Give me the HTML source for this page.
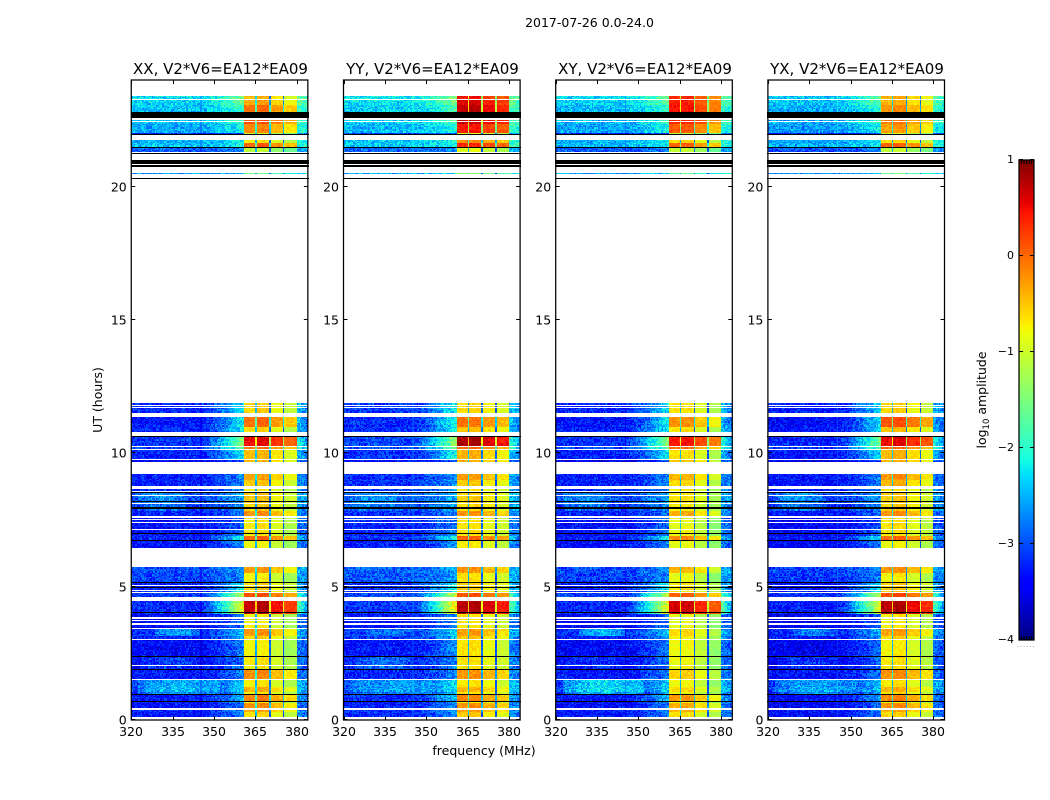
<!DOCTYPE html>
<html>
<head>
<meta charset="utf-8">
<style>
html,body{margin:0;padding:0;background:#fff;width:1050px;height:800px;overflow:hidden}
#figure{position:relative;width:1050px;height:800px;background:#fff}
#figure canvas{position:absolute;image-rendering:pixelated}
#figure svg{position:absolute;left:0;top:0}
text{font-family:"DejaVu Sans","Liberation Sans",sans-serif;fill:#000}
</style>
</head>
<body>
<div id="figure">
<svg id="overlay" width="1050" height="800">
  <text x="589.5" y="27" font-size="12.5" text-anchor="middle">2017-07-26 0.0-24.0</text>
  <text x="220.5" y="74" font-size="15" text-anchor="middle">XX, V2*V6=EA12*EA09</text>
  <text x="432.5" y="74" font-size="15" text-anchor="middle">YY, V2*V6=EA12*EA09</text>
  <text x="645" y="74" font-size="15" text-anchor="middle">XY, V2*V6=EA12*EA09</text>
  <text x="857" y="74" font-size="15" text-anchor="middle">YX, V2*V6=EA12*EA09</text>
  <text transform="translate(102,400) rotate(-90)" font-size="12.5" text-anchor="middle">UT (hours)</text>
  <text x="484" y="755" font-size="12.5" text-anchor="middle">frequency (MHz)</text>
  <text transform="translate(986,400) rotate(-90)" font-size="12.5" text-anchor="middle">log<tspan font-size="8.5" dy="3">10</tspan><tspan dy="-3"> amplitude</tspan></text>
  <text x="1026" y="647" font-size="8" style="fill:#999;letter-spacing:0.6px" text-anchor="middle">......</text>
</svg>
</div>
<script>
// ---------- data ----------
const polarisations = ['xx', 'yy', 'xy', 'yx'];
const xTickLabels = [320, 335, 350, 365, 380];
const yTickLabels = [0, 5, 10, 15, 20];
const colorbarTicks = [1, 0, -1, -2, -3, -4];

// Spectral-window edges (MHz) and the spw level per polarisation (log10 amplitude)
const spwEdges = [360.6, 365.2, 370.2, 375.3, 380];
const spwGapLevels = [-2.5, -2.9, -3.0];
const spwLevels = [
  [-0.85, -0.78, -1.08, -1.32],
  [-0.8, -0.77, -0.98, -1.15],
  [-0.88, -0.85, -1.15, -1.42],
  [-0.82, -0.75, -1.02, -1.25]
];
const panelBgOffset = [0, 0.08, -0.02, -0.08];

// Observed time blocks: UT start, UT end, background, wing lift, signal XX, YY, XY, YX
const bands = [
  [0.12, 0.30, -3.3, 0.3, 0.2, 0.25, 0.2, 0.2],
  [0.30, 0.38, -3.25, 0.3, 0.5, 0.5, 0.45, 0.45],
  [0.41, 0.62, -3.35, 0.3, 0.62, 0.58, 0.5, 0.58],
  [0.62, 0.72, -3.35, 0.4, 0.05, 0.05, 0.05, 0.05],
  [0.72, 0.94, -3.3, 0.6, 0.7, 0.62, 0.62, 0.62],
  [0.94, 1.06, -3.25, 0.5, 0.12, 0.12, 0.05, 0.12],
  [1.06, 1.22, -3.05, 0.5, 0.45, 0.38, 0.25, 0.38],
  [1.22, 1.51, -3.1, 0.5, 0.12, 0.12, 0.05, 0.12],
  [1.51, 1.86, -3.3, 0.3, 0.62, 0.56, 0.3, 0.56],
  [1.86, 2.39, -3.35, 0.3, 0.12, 0.12, 0.05, 0.12],
  [2.39, 3.00, -3.4, 0.4, 0.05, 0.12, 0.05, 0.05],
  [3.00, 3.14, -3.25, 0.4, 0.25, 0.25, 0.12, 0.2],
  [3.14, 3.43, -3.15, 0.5, 0.56, 0.5, 0.25, 0.5],
  [3.43, 3.98, -3.4, 0.3, 0.05, 0.12, 0.0, 0.05],
  [3.98, 4.48, -3.2, 2.2, 1.56, 1.56, 1.5, 1.56],
  [4.60, 4.76, -3.1, 1.8, 0.95, 0.9, 0.9, 0.95],
  [4.76, 5.16, -3.25, 0.8, 0.25, 0.25, 0.2, 0.25],
  [5.16, 5.53, -3.05, 0.1, 0.05, 0.12, 0.0, 0.05],
  [5.53, 5.73, -3.0, 0.1, 0.56, 0.56, 0.45, 0.56],
  [6.44, 6.76, -3.35, 0.4, 0.0, 0.05, 0.0, 0.0],
  [6.76, 6.90, -3.25, 0.9, 0.85, 0.8, 0.7, 0.8],
  [6.90, 7.13, -3.35, 0.3, 0.12, 0.12, 0.05, 0.12],
  [7.13, 7.48, -3.35, 0.2, 0.12, 0.12, 0.0, 0.12],
  [7.48, 7.65, -3.35, 0.2, 0.12, 0.12, 0.05, 0.12],
  [7.65, 7.85, -3.25, 0.2, 0.62, 0.56, 0.5, 0.56],
  [7.85, 8.11, -3.1, 0.2, 0.25, 0.2, 0.12, 0.25],
  [8.11, 8.54, -3.0, 0.2, 0.3, 0.25, 0.2, 0.25],
  [8.60, 8.67, -3.15, 0.2, 0.12, 0.12, 0.12, 0.12],
  [8.79, 9.00, -3.25, 0.3, 0.3, 0.25, 0.25, 0.38],
  [9.00, 9.23, -3.25, 0.3, 0.5, 0.5, 0.45, 0.56],
  [9.69, 9.75, -3.45, 0.2, 0.4, 0.4, 0.4, 0.4],
  [9.79, 10.13, -3.25, 0.8, 0.38, 0.38, 0.2, 0.38],
  [10.13, 10.28, -3.05, 1.2, 0.8, 0.8, 0.8, 0.8],
  [10.28, 10.64, -3.15, 1.5, 1.35, 1.58, 1.3, 1.35],
  [10.80, 11.00, -3.25, 0.8, 0.2, 0.32, 0.2, 0.32],
  [11.00, 11.36, -3.3, 0.9, 0.8, 0.72, 0.65, 0.9],
  [11.42, 11.52, -3.15, 0.6, 0.12, 0.12, 0.12, 0.2],
  [11.52, 11.87, -3.2, 0.7, 0.25, 0.2, 0.2, 0.2],
  [20.47, 20.52, -2.6, 0.0, -0.8, -0.6, -0.8, -0.8],
  [21.29, 21.45, -2.95, 0.0, -0.3, -0.1, -0.2, -0.3],
  [21.50, 21.62, -2.45, 0.0, 0.85, 1.15, 0.9, 0.78],
  [21.62, 21.77, -2.5, 0.1, 0.15, 0.6, 0.25, 0.15],
  [21.96, 22.02, -3.2, 0.0, -0.2, -0.1, -0.2, -0.2],
  [22.02, 22.35, -2.55, 0.2, 0.65, 1.2, 0.95, 0.5],
  [22.35, 22.54, -2.45, 0.3, 0.95, 1.5, 1.25, 0.7],
  [22.80, 23.08, -2.45, 0.3, 0.78, 1.5, 1.3, 0.58],
  [23.08, 23.28, -2.35, 0.5, 0.5, 1.38, 1.25, 0.38],
  [23.28, 23.40, -2.3, 0.5, 0.38, 1.25, 1.2, 0.45]
];

// Blank (white) and flagged (black) integrations: UT start, UT end
const whiteRows = [
  [0.40, 0.44], [1.50, 1.54], [2.03, 2.07], [2.99, 3.03], [3.42, 3.46], [3.58, 3.62], [3.72, 3.76], [3.80, 3.86],
  [4.48, 4.60], [4.75, 4.79], [4.84, 4.89], [5.03, 5.07], [7.11, 7.15], [7.39, 7.43], [7.58, 7.64], [7.50, 7.52],
  [8.09, 8.13], [8.40, 8.44], [8.67, 8.79], [8.54, 8.60], [9.75, 9.77], [10.12, 10.16], [10.23, 10.27],
  [11.42, 11.52], [11.71, 11.75], [11.78, 11.82], [21.76, 21.92], [22.42, 22.46], [22.50, 22.54], [23.26, 23.30]
];
const blackRows = [
  [0.69, 0.73], [0.92, 0.96], [1.89, 1.93], [2.37, 2.41], [4.02, 4.06], [4.96, 5.00], [5.14, 5.18],
  [6.70, 6.74], [6.97, 7.01], [7.93, 7.97], [8.18, 8.22], [8.52, 8.55], [10.62, 10.66],
  [20.28, 20.33], [20.75, 20.80], [20.84, 20.99], [21.24, 21.28], [21.47, 21.50], [21.94, 21.98], [22.56, 22.80]
];

// Broad diffuse features: UT start, UT end, MHz start, MHz end, lift per polarisation
const glowFeatures = [
  [1.00, 1.45, 322, 352, [0.6, 0.4, 0.8, 0.6]],
  [3.30, 3.38, 328, 345, [0.5, 0.25, 0.7, 0.5]],
  [1.90, 2.20, 323, 345, [0.25, 0.4, 0.15, 0.25]],
  [8.10, 8.40, 322, 340, [0.3, 0.3, 0.3, 0.4]]
];

// Hand-typed grain table (log10 amplitude offsets)
const grain = [
  0.22, -0.31, 0.05, 0.38, -0.12, -0.4, 0.17, 0.31, -0.24, 0.02, 0.44, -0.18, -0.35, 0.12, 0.27, -0.05, -0.28, 0.36,
  0.08, -0.44, 0.19, -0.09, 0.33, -0.21, 0.01, 0.47, -0.37, 0.14, -0.16, 0.25, -0.03, -0.33, 0.41, 0.1, -0.26, 0.29,
  -0.11, 0.06, -0.42, 0.35, 0.16, -0.2, -0.07, 0.52, -0.3, 0.21, 0.03, -0.14, 0.39, -0.38, 0.11, 0.24, -0.23, -0.01,
  0.3, -0.46, 0.18, 0.07, -0.29, 0.34, -0.1
];

// ---------- layout and axis functions ----------
const panelLefts = [131.25, 343.5, 555.7, 767.9];
const panelWidth = 176.6, panelTop = 80, panelBottom = 720;
const freqMin = 320, freqMax = 384, utMin = 0, utMax = 24;
const valueMin = -4, valueMax = 1;
const barLeft = 1019, barRight = 1034, barTop = 160, barBottom = 640;

function xScale(f) { return (f - freqMin) / (freqMax - freqMin) * panelWidth; }
function yScale(ut) { return panelBottom - (ut - utMin) / (utMax - utMin) * (panelBottom - panelTop); }
function barScale(v) { return barBottom - (v - valueMin) / (valueMax - valueMin) * (barBottom - barTop); }

function jetChannel(t, pts) {
  for (let i = 1; i < pts.length; i++) {
    if (t <= pts[i][0]) {
      const a = pts[i - 1], b = pts[i];
      return a[1] + (b[1] - a[1]) * (t - a[0]) / (b[0] - a[0]);
    }
  }
  return pts[pts.length - 1][1];
}
function jet(v) {
  const t = Math.max(0, Math.min(1, (v - valueMin) / (valueMax - valueMin)));
  const r = jetChannel(t, [[0, 0], [0.35, 0], [0.66, 1], [0.89, 1], [1, 0.5]]);
  const g = jetChannel(t, [[0, 0], [0.125, 0], [0.375, 1], [0.64, 1], [0.91, 0], [1, 0]]);
  const b = jetChannel(t, [[0, 0.5], [0.11, 1], [0.34, 1], [0.65, 0], [1, 0]]);
  return 'rgb(' + Math.round(r * 255) + ',' + Math.round(g * 255) + ',' + Math.round(b * 255) + ')';
}

function cellValue(p, band, f, c, r) {
  const g = grain[(c * c * 3 + r * 11 + c * r + p * 17) % grain.length];
  const sig = band[4 + p];
  if (f >= spwEdges[0] && f < spwEdges[spwEdges.length - 1]) {
    for (let s = 0; s < 4; s++) {
      if (f >= spwEdges[s] && f < spwEdges[s + 1]) {
        if (s < 3 && f >= spwEdges[s + 1] - 0.5) {
          return spwGapLevels[s] + Math.max(0, sig - 0.3) * 1.6 + g * 0.3;
        }
        return spwLevels[p][s] + sig + g * 0.3;
      }
    }
  }
  let v = band[2] + panelBgOffset[p] + g * 0.75;
  if (f < spwEdges[0]) {
    const t = Math.max(0, (f - 345) / 15.6);
    v = v + (band[3] + 0.25) * Math.pow(t, 1.3);
  } else {
    v = v + 0.4 + band[3] * 0.5 * (1 - (f - 380) / 4);
  }
  for (const ft of glowFeatures) {
    const mid = (ft[2] + ft[3]) / 2, half = (ft[3] - ft[2]) / 2;
    if (band[1] > ft[0] && band[0] < ft[1] && Math.abs(f - mid) < half) {
      v += ft[4][p] * (1 - Math.pow(Math.abs(f - mid) / half, 2) * 0.6);
    }
  }
  return v;
}

// ---------- draw heatmaps ----------
const figure = document.getElementById('figure');
const overlay = document.getElementById('overlay');
const svgNS = 'http://www.w3.org/2000/svg';
const channelWidth = 0.5, rowHeight = 0.05;

polarisations.forEach(function (pol, p) {
  const cv = document.createElement('canvas');
  
  
  cv.width = 178; cv.height = 640;
  cv.style.left = Math.floor(panelLefts[p]) + 'px';
  cv.style.top = panelTop + 'px';
  const ctx = cv.getContext('2d');
  const shift = panelLefts[p] - Math.floor(panelLefts[p]);
  let r = 0;
  bands.forEach(function (band) {
    for (let ut = band[0]; ut < band[1] - 1e-6; ut += rowHeight) {
      const top = Math.round(yScale(Math.min(ut + rowHeight, band[1])) - panelTop);
      const bot = Math.round(yScale(ut) - panelTop);
      let c = 0;
      for (let f = freqMin; f < freqMax; f += channelWidth) {
        const x0 = Math.round(xScale(f) + shift);
        const x1 = Math.round(xScale(f + channelWidth) + shift);
        ctx.fillStyle = jet(cellValue(p, band, f, c, r));
        ctx.fillRect(x0, top, x1 - x0, Math.max(1, bot - top));
        c++;
      }
      r++;
    }
  });
  const paintRows = function (rows, colour) {
    ctx.fillStyle = colour;
    rows.forEach(function (row) {
      const top = Math.round(yScale(row[1]) - panelTop);
      const bot = Math.round(yScale(row[0]) - panelTop);
      ctx.fillRect(0, top, 178, Math.max(1, bot - top));
    });
  };
  paintRows(whiteRows, '#fff');
  paintRows(blackRows, '#000');
  figure.insertBefore(cv, overlay);
});

// ---------- colorbar ----------
const barCanvas = document.createElement('canvas');


barCanvas.width = barRight - barLeft;
barCanvas.height = barBottom - barTop;
barCanvas.style.left = barLeft + 'px';
barCanvas.style.top = barTop + 'px';
const barCtx = barCanvas.getContext('2d');
for (let py = 0; py < barBottom - barTop; py++) {
  const v = valueMax - (py + 0.5) / (barBottom - barTop) * (valueMax - valueMin);
  barCtx.fillStyle = jet(v);
  barCtx.fillRect(0, py, barRight - barLeft, 1);
}
figure.insertBefore(barCanvas, overlay);

// ---------- axes ----------
function addLine(parent, x1, y1, x2, y2, name) {
  const l = document.createElementNS(svgNS, 'line');
  l.setAttribute('x1', x1); l.setAttribute('y1', y1);
  l.setAttribute('x2', x2); l.setAttribute('y2', y2);
  l.setAttribute('stroke', '#000');
  l.setAttribute('stroke-width', '1');
  
  
  parent.appendChild(l);
}
function addText(parent, x, y, str, anchor, size, name) {
  const t = document.createElementNS(svgNS, 'text');
  t.setAttribute('x', x); t.setAttribute('y', y);
  t.setAttribute('text-anchor', anchor);
  t.setAttribute('font-size', size);
  
  
  t.textContent = str;
  parent.appendChild(t);
}

polarisations.forEach(function (pol, p) {
  const left = panelLefts[p];
  const right = left + panelWidth;
  const frame = document.createElementNS(svgNS, 'rect');
  frame.setAttribute('x', left); frame.setAttribute('y', panelTop);
  frame.setAttribute('width', panelWidth); frame.setAttribute('height', panelBottom - panelTop);
  frame.setAttribute('fill', 'none');
  frame.setAttribute('stroke', '#000');
  frame.setAttribute('stroke-width', '1.25');
  
  
  overlay.appendChild(frame);
  xTickLabels.forEach(function (f) {
    const x = Math.round(left + xScale(f)) + 0.5;
    addLine(overlay, x, panelBottom, x, panelBottom - 4, 'x-tick-bottom');
    addLine(overlay, x, panelTop, x, panelTop + 4, 'x-tick-top');
    addText(overlay, x - 0.5, panelBottom + 16, String(f), 'middle', 12.5, 'x-tick-label');
  });
  yTickLabels.forEach(function (ut) {
    const y = Math.round(yScale(ut)) - 0.5;
    addLine(overlay, left, y, left + 4, y, 'y-tick-left');
    addLine(overlay, right, y, right - 4, y, 'y-tick-right');
    addText(overlay, left - 4.5, y + 5, String(ut), 'end', 12.5, 'y-tick-label');
  });
});

const barFrame = document.createElementNS(svgNS, 'rect');
barFrame.setAttribute('x', barLeft); barFrame.setAttribute('y', barTop);
barFrame.setAttribute('width', barRight - barLeft); barFrame.setAttribute('height', barBottom - barTop);
barFrame.setAttribute('fill', 'none');
barFrame.setAttribute('stroke', '#000');
barFrame.setAttribute('stroke-width', '1.25');


overlay.appendChild(barFrame);

colorbarTicks.forEach(function (v) {
  const y = Math.round(barScale(v)) - 0.5;
  addLine(overlay, barLeft, y, barLeft + 4, y, 'colorbar-tick-left');
  addLine(overlay, barRight, y, barRight - 4, y, 'colorbar-tick-right');
  addText(overlay, barLeft - 5, Math.round(barScale(v)) + 3, String(v).replace('-', '\u2212'), 'end', 11, 'colorbar-tick-label');
});
for (let i = 1; i <= 5; i++) {
  const x = barLeft + i * (barRight - barLeft) / 6;
  addLine(overlay, x, barTop, x, barTop + 4, 'colorbar-top-minor-tick');
  addLine(overlay, x, barBottom, x, barBottom - 4, 'colorbar-bottom-minor-tick');
}
</script>
</body>
</html>
